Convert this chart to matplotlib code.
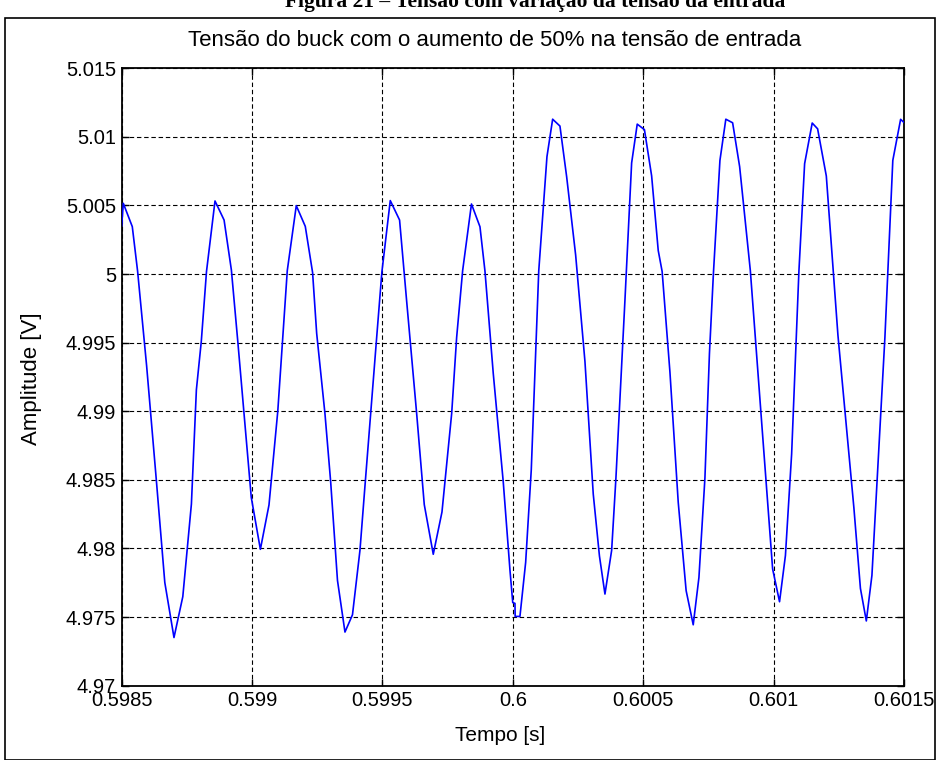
import matplotlib
matplotlib.use("Agg")
import matplotlib.pyplot as plt
from matplotlib.patches import Rectangle

# ---- data ----
tempo = [0.5985000, 0.5985061, 0.5985406, 0.5985610, 0.5985955, 0.5986334, 0.5986653, 0.5987005,
         0.5987343, 0.5987673, 0.5987864, 0.5988052, 0.5988252, 0.5988578, 0.5988926, 0.5989206,
         0.5989452, 0.5989969, 0.5990318, 0.5990648, 0.5990986, 0.5991350, 0.5991695, 0.5992040,
         0.5992320, 0.5992477, 0.5992795, 0.5993014, 0.5993275, 0.5993562, 0.5993850, 0.5994137,
         0.5994329, 0.5994778, 0.5994977, 0.5995299, 0.5995656, 0.5995928, 0.5996312, 0.5996603,
         0.5996948, 0.5997282, 0.5997654, 0.5997845, 0.5998075, 0.5998413, 0.5998739, 0.5998930,
         0.5999249, 0.5999632, 0.5999889, 0.5999996, 0.6000081, 0.6000088, 0.6000272, 0.6000491,
         0.6000706, 0.6000993, 0.6001308, 0.6001526, 0.6001806, 0.6002063, 0.6002408, 0.6002765,
         0.6003083, 0.6003321, 0.6003532, 0.6003789, 0.6003953, 0.6004299, 0.6004555, 0.6004770,
         0.6005046, 0.6005322, 0.6005575, 0.6005725, 0.6006024, 0.6006342, 0.6006645, 0.6006917,
         0.6007136, 0.6007366, 0.6007539, 0.6007692, 0.6007941, 0.6008167, 0.6008428, 0.6008697,
         0.6009107, 0.6009540, 0.6009962, 0.6010227, 0.6010453, 0.6010691, 0.6010970, 0.6011189,
         0.6011480, 0.6011687, 0.6012021, 0.6012466, 0.6013079, 0.6013329, 0.6013555, 0.6013770,
         0.6014268, 0.6014571, 0.6014870, 0.6015000]
tensao = [5.00353, 5.00516, 5.00346, 5.00021, 4.99333, 4.98485, 4.97752, 4.97351,
          4.97649, 4.98324, 4.99157, 4.99509, 5.00019, 5.00533, 5.00394, 5.00030,
          4.99509, 4.98372, 4.97994, 4.98317, 4.99002, 5.00026, 5.00499, 5.00348,
          5.00012, 4.99568, 4.98982, 4.98485, 4.97767, 4.97391, 4.97517, 4.97987,
          4.98456, 4.99539, 5.00014, 5.00536, 5.00394, 4.99802, 4.98982, 4.98320,
          4.97958, 4.98266, 4.98984, 4.99539, 5.00026, 5.00511, 5.00345, 5.00023,
          4.99275, 4.98485, 4.97843, 4.97606, 4.97600, 4.97505, 4.97505, 4.97899,
          4.98572, 5.00023, 5.00856, 5.01129, 5.01079, 5.00710, 5.00139, 4.99363,
          4.98397, 4.97945, 4.97668, 4.97987, 4.98514, 4.99811, 5.00810, 5.01093,
          5.01053, 5.00716, 5.00172, 5.00019, 4.99286, 4.98337, 4.97693, 4.97444,
          4.97789, 4.98514, 4.99421, 5.00007, 5.00828, 5.01129, 5.01103, 5.00783,
          5.00026, 4.98923, 4.97851, 4.97612, 4.97949, 4.98689, 5.00021, 5.00805,
          5.01101, 5.01059, 5.00715, 4.99556, 4.98295, 4.97709, 4.97472, 4.97804,
          4.99539, 5.00829, 5.01128, 5.01105]

x_ticks = [0.5985, 0.599, 0.5995, 0.6, 0.6005, 0.601, 0.6015]
x_tick_labels = ["0.5985", "0.599", "0.5995", "0.6", "0.6005", "0.601", "0.6015"]
y_ticks = [4.97, 4.975, 4.98, 4.985, 4.99, 4.995, 5.0, 5.005, 5.01, 5.015]
y_tick_labels = ["4.97", "4.975", "4.98", "4.985", "4.99", "4.995", "5", "5.005", "5.01", "5.015"]

title = "Tensão do buck com o aumento de 50% na tensão de entrada"
xlabel = "Tempo [s]"
ylabel = "Amplitude [V]"
caption = "Figura 21 – Tensão com variação da tensão da entrada"

plt.rcParams['font.family'] = ['Liberation Sans', 'DejaVu Sans']

W, H = 939, 760
fig = plt.figure(figsize=(W / 100, H / 100), dpi=100)
fig.patch.set_facecolor("white")

# outer frame of the figure
fig.add_artist(Rectangle((4.5 / W, 0), 930 / W, 1 - 18 / H, transform=fig.transFigure,
                         fill=False, edgecolor="black", linewidth=1.2))
# caption (cut at top edge)
fig.text(535 / W, 1 - 7 / H, caption, ha="center", va="baseline",
         family=["Liberation Serif", "DejaVu Serif"], fontweight="bold", fontsize=15.5)

ax = fig.add_axes([121.7 / W, 1 - 685.7 / H, (904 - 121.7) / W, (685.7 - 68.3) / H])
ax.plot(tempo, tensao, color=(0, 0, 1), linewidth=1.2, zorder=3)

ax.set_xlim(0.5985, 0.6015)
ax.set_ylim(4.97, 5.015)
ax.set_xticks(x_ticks)
ax.set_xticklabels(x_tick_labels)
ax.set_yticks(y_ticks)
ax.set_yticklabels(y_tick_labels)

ax.grid(True, color="black", linestyle=(0, (4, 2.5)), linewidth=0.8)
ax.set_axisbelow(True)
for s in ax.spines.values():
    s.set_linewidth(1.3)
ax.tick_params(direction="in", length=5, width=1.0, top=True, right=True,
               labelsize=14.5, pad=4, colors="black")

ax.set_title(title, fontsize=16, pad=16, x=0.477)
ax.set_xlabel(xlabel, fontsize=15)
ax.xaxis.set_label_coords(0.4836, -0.066)
ax.set_ylabel(ylabel, fontsize=16)
ax.yaxis.set_label_coords(-0.102, 0.497)

fig.savefig("out.png", dpi=100)
